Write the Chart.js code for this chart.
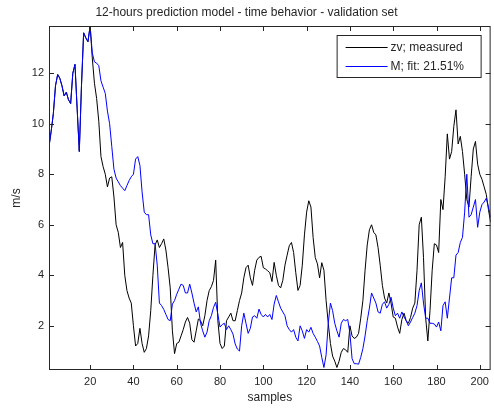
<!DOCTYPE html>
<html>
<head>
<meta charset="utf-8">
<script src="https://cdn.jsdelivr.net/npm/chart.js@4.4.1/dist/chart.umd.min.js"></script>
<style>
  html, body { margin: 0; padding: 0; background: #fff; }
  canvas { display: block; }
</style>
</head>
<body>
<canvas id="chart" width="494" height="408"></canvas>
<script>
const samples = Array.from({ length: 205 }, (_, i) => i + 1);

// zv; measured
const measured = [
  9.1, 9.7, 10.4, 11.5, 11.95, 11.8, 11.5, 11.1, 11.25, 10.95,
  10.8, 12.0, 12.35, 10.6, 8.9, 11.5, 13.6, 13.4, 13.25, 13.87,
  12.6, 11.6, 11.0, 10.1, 8.7, 8.3, 8.0, 7.5, 7.85, 7.9,
  7.1, 6.0, 5.7, 5.1, 5.3, 4.0, 3.4, 3.1, 2.9, 2.0,
  1.2, 1.3, 1.9, 1.3, 0.95, 1.1, 1.6, 2.6, 4.0, 5.2,
  5.4, 5.1, 5.25, 5.44, 5.0, 4.3, 3.5, 1.8, 0.9, 1.3,
  1.35, 1.6, 1.85, 2.15, 2.33, 2.1, 1.45, 1.35, 1.8, 2.27,
  2.2, 2.0, 2.4, 3.0, 3.39, 3.55, 3.8, 4.6, 2.2, 1.3,
  1.1, 1.2, 2.2, 2.35, 2.5, 2.2, 2.2, 2.6, 3.0, 3.3,
  3.9, 4.3, 4.4, 3.9, 3.6, 4.2, 4.6, 4.71, 4.75, 4.3,
  4.25, 4.18, 4.1, 3.75, 4.51, 4.0, 3.6, 3.5, 3.8, 4.4,
  4.8, 5.17, 5.3, 4.9, 4.1, 3.4, 3.6, 4.4, 5.6, 6.5,
  6.95, 6.7, 5.5, 4.7, 4.45, 3.9, 4.5, 4.2, 3.0, 2.1,
  1.3, 0.8, 0.6, 0.35, 0.6, 0.95, 1.1, 1.05, 0.95, 2.0,
  1.6, 1.5, 1.55, 1.7, 2.3, 3.0, 4.2, 5.2, 5.8, 6.0,
  5.7, 5.6, 5.1, 4.4, 3.6, 3.1, 2.9, 3.3, 2.9, 2.35,
  2.3, 1.95, 1.7, 2.25, 2.5, 2.2, 2.1, 2.33, 2.7, 2.9,
  4.2, 6.0, 6.3, 4.7, 2.3, 1.4, 2.6, 4.2, 5.25, 5.2,
  4.9, 7.0, 6.6, 7.9, 9.6, 8.6, 8.9, 9.9, 10.55, 9.2,
  9.5, 8.9, 8.0, 7.0, 6.7, 7.9, 9.0, 9.3, 8.4, 8.0,
  7.8, 7.5, 7.2, 6.6, 6.1
];

// M; fit
const model = [
  9.1, 9.7, 10.4, 11.5, 11.95, 11.8, 11.5, 11.1, 11.25, 10.95,
  10.8, 12.0, 12.35, 10.6, 8.9, 11.5, 13.6, 13.4, 13.25, 13.87,
  12.8, 12.45, 12.4, 12.3, 11.7, 11.45, 11.2, 10.5, 10.0, 9.1,
  8.2, 7.85, 7.7, 7.55, 7.45, 7.35, 7.55, 7.75, 7.9, 8.0,
  8.6, 8.7, 8.35, 7.3, 6.5, 6.4, 6.4, 5.6, 5.25, 5.25,
  4.4, 2.9, 2.8, 2.65, 2.45, 2.25, 2.2, 2.86, 3.0, 3.25,
  3.45, 3.65, 3.6, 3.3, 3.3, 3.65, 3.3, 2.9, 2.55, 2.75,
  2.1, 1.8, 1.55, 1.75, 2.2, 2.4, 2.73, 2.93, 2.45, 1.95,
  2.05, 2.1, 1.85, 2.0, 1.85, 1.67, 1.28, 1.08, 1.0, 2.0,
  2.5, 2.1, 1.7, 1.9, 2.35, 2.4, 2.3, 2.66, 2.45, 2.35,
  2.45, 2.35, 2.45, 2.25, 2.86, 3.2, 2.95, 2.7, 2.55, 2.4,
  2.0, 1.85, 1.75, 1.85, 1.55, 1.4, 2.0, 1.8, 1.5, 1.85,
  1.75, 1.94, 1.7, 1.55, 1.38, 1.2, 0.75, 0.35, 0.85, 2.1,
  2.9, 2.6, 2.1, 1.8, 1.55, 2.1, 2.25, 2.2, 2.25, 1.7,
  0.7, 0.5, 0.5, 0.48, 0.75, 1.1, 1.6, 2.2, 2.7, 3.3,
  3.1, 2.9, 2.55, 2.5, 2.85, 2.95, 2.7, 2.85, 3.13, 2.7,
  2.4, 2.5, 2.3, 2.55, 2.35, 2.2, 2.0, 2.15, 2.33, 2.5,
  2.8, 3.39, 3.7, 2.9, 2.3, 2.3, 2.1, 2.1, 2.07, 1.95,
  2.15, 1.8, 2.8, 2.95, 2.3, 3.1, 3.9, 3.9, 4.8, 4.9,
  5.3, 5.5, 6.5, 8.0, 6.3, 6.4, 6.7, 7.0, 5.9, 6.5,
  6.8, 6.9, 7.05, 6.7, 6.3
];

const xTicks = [20, 40, 60, 80, 100, 120, 140, 160, 180, 200];
const yTicks = [2, 4, 6, 8, 10, 12];
const seriesNames = ["zv; measured", "M; fit: 21.51%"];

const FONT = "'Liberation Sans', Arial, sans-serif";
const TEXT = "#262626";

// box around the axes, inward ticks on all sides, legend in the corner
const matlabFrame = {
  id: "matlabFrame",
  afterDraw(chart) {
    const { ctx, chartArea: a, scales } = chart;
    ctx.save();
    ctx.strokeStyle = "#262626";
    ctx.lineWidth = 1;
    ctx.strokeRect(a.left + 0.5, a.top + 0.5, a.right - a.left - 1, a.bottom - a.top - 1);

    const tl = 5;
    ctx.beginPath();
    xTicks.forEach((v) => {
      const x = Math.round(scales.x.getPixelForValue(v)) + 0.5;
      ctx.moveTo(x, a.bottom); ctx.lineTo(x, a.bottom - tl);
      ctx.moveTo(x, a.top); ctx.lineTo(x, a.top + tl);
    });
    yTicks.forEach((v) => {
      const y = Math.round(scales.y.getPixelForValue(v)) + 0.5;
      ctx.moveTo(a.left, y); ctx.lineTo(a.left + tl, y);
      ctx.moveTo(a.right, y); ctx.lineTo(a.right - tl, y);
    });
    ctx.stroke();

    // legend
    const bx = a.right - 154, by = a.top + 9, bw = 144, bh = 42;
    ctx.fillStyle = "#fff";
    ctx.fillRect(bx, by, bw, bh);
    ctx.strokeRect(bx + 0.5, by + 0.5, bw, bh);
    ctx.font = "12px " + FONT;
    ctx.textBaseline = "middle";
    chart.data.datasets.forEach((ds, i) => {
      const y = Math.round(by + 12 + i * 19) + 0.5;
      ctx.strokeStyle = ds.borderColor;
      ctx.beginPath();
      ctx.moveTo(bx + 9, y);
      ctx.lineTo(bx + 51, y);
      ctx.stroke();
      ctx.fillStyle = TEXT;
      ctx.fillText(ds.label, bx + 54, y);
    });
    ctx.restore();
  }
};

new Chart(document.getElementById("chart"), {
  type: "line",
  data: {
    labels: samples,
    datasets: [
      {
        label: seriesNames[0],
        data: measured,
        borderColor: "#000000",
        borderWidth: 1,
        pointRadius: 0,
        tension: 0,
        order: 1
      },
      {
        label: seriesNames[1],
        data: model,
        borderColor: "#0000ff",
        borderWidth: 1,
        pointRadius: 0,
        tension: 0,
        order: 0
      }
    ]
  },
  options: {
    responsive: false,
    devicePixelRatio: 1,
    animation: false,
    layout: { padding: { left: 0, right: 1, top: 0, bottom: 0 } },
    plugins: {
      legend: { display: false },
      tooltip: { enabled: false },
      title: {
        display: true,
        text: "12-hours prediction model - time behavior - validation set",
        color: TEXT,
        font: { family: FONT, size: 12, weight: "normal" },
        padding: { top: 5, bottom: 6.6 }
      }
    },
    scales: {
      x: {
        type: "linear",
        min: 1,
        max: 205,
        grid: { display: false, drawTicks: false },
        border: { display: false },
        afterBuildTicks: (s) => { s.ticks = xTicks.map((v) => ({ value: v })); },
        afterFit: (s) => { s.height = 38; },
        ticks: { color: TEXT, font: { family: FONT, size: 11 }, padding: 5, maxRotation: 0, autoSkip: false },
        title: { display: true, text: "samples", color: TEXT, font: { family: FONT, size: 12 }, padding: { top: 0, bottom: 3 } }
      },
      y: {
        min: 0.25,
        max: 13.87,
        grid: { display: false, drawTicks: false },
        border: { display: false },
        afterBuildTicks: (s) => { s.ticks = yTicks.map((v) => ({ value: v })); },
        afterFit: (s) => { s.width = 49; },
        ticks: { color: TEXT, font: { family: FONT, size: 11 }, padding: 5 },
        title: { display: true, text: "m/s", color: TEXT, font: { family: FONT, size: 12 }, padding: { top: 9, bottom: 0 } }
      }
    }
  },
  plugins: [matlabFrame]
});
</script>
</body>
</html>
